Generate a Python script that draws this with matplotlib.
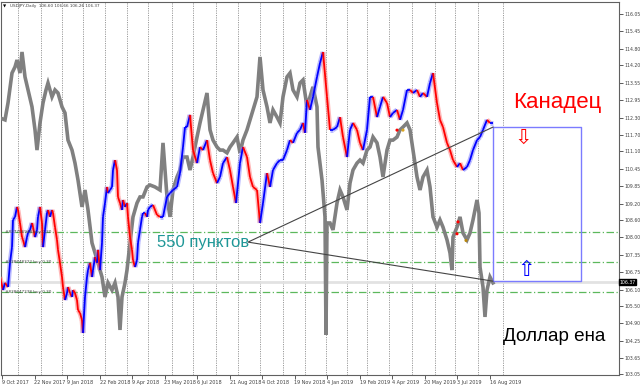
import numpy as np
import matplotlib
matplotlib.use("Agg")
import matplotlib.pyplot as plt
from matplotlib.collections import LineCollection

# USDJPY daily (grey bars), x = bar position on the chart
jpy_x = [0, 5, 8, 12, 15, 17, 20, 22, 25, 28, 32, 35, 37, 40, 43, 46, 48, 52, 55, 58,
         62, 65, 68, 72, 75, 78, 82, 85, 88, 92, 95, 98, 102, 105, 108, 112, 115, 118, 120, 122,
         125, 127, 130, 133, 137, 140, 143, 147, 150, 155, 160, 163, 167, 170, 173, 177, 180, 183, 187, 190,
         193, 197, 200, 203, 207, 210, 213, 217, 220, 223, 227, 230, 233, 237, 240, 243, 247, 250, 253, 257,
         260, 263, 267, 270, 273, 277, 280, 283, 287, 290, 293, 297, 300, 303, 307, 310, 313, 317, 318, 320,
         322, 325, 326, 327, 330, 333, 337, 340, 343, 347, 350, 353, 357, 360, 363, 367, 370, 373, 377, 380,
         383, 387, 390, 393, 397, 400, 403, 407, 410, 413, 417, 420, 423, 427, 430, 433, 437, 440, 443, 447,
         450, 452, 453, 457, 460, 463, 467, 470, 473, 477, 479, 480, 483, 485, 487, 490, 493]
jpy_close = [112.30, 112.23, 112.84, 113.92, 114.14, 114.39, 113.92, 114.68, 113.78, 113.31,
             112.70, 111.87, 111.14, 112.12, 112.84, 113.31, 113.56, 113.06, 113.31, 113.20,
             112.70, 112.48, 111.50, 111.14, 110.67, 110.06, 109.09, 109.70, 108.98, 107.79,
             107.43, 107.07, 106.56, 105.84, 106.35, 106.09, 106.35, 105.84, 104.65, 105.84,
             106.35, 106.81, 107.79, 108.73, 109.23, 109.45, 109.45, 109.81, 109.88, 109.81,
             109.70, 111.40, 109.45, 108.73, 109.70, 110.17, 110.42, 110.89, 110.89, 110.42,
             110.89, 111.61, 112.12, 112.59, 113.20, 111.87, 111.50, 111.25, 111.14, 111.14,
             111.04, 111.25, 111.40, 111.61, 111.04, 111.50, 111.87, 112.23, 112.59, 113.06,
             114.50, 113.31, 112.70, 112.12, 112.59, 112.33, 112.12, 113.06, 113.78, 113.92,
             113.31, 113.06, 113.56, 113.67, 112.70, 113.06, 113.42, 112.70, 111.25, 110.67,
             110.06, 108.73, 104.47, 108.51, 108.51, 108.26, 109.23, 109.70, 109.45, 108.98,
             109.95, 110.42, 110.67, 110.78, 110.67, 111.14, 111.25, 111.61, 111.40, 110.89,
             110.17, 111.14, 111.50, 111.50, 111.61, 111.87, 111.97, 112.12, 111.87, 111.14,
             110.17, 109.70, 110.17, 110.42, 109.81, 108.73, 108.36, 108.62, 108.36, 107.90,
             107.43, 106.81, 108.00, 108.36, 108.73, 108.15, 107.90, 108.15, 108.62, 109.34,
             108.87, 106.92, 106.20, 105.12, 106.09, 106.56, 106.35]

# USDCAD overlay ("Канадец"), drawn in the chart's price scale
cad_x = [0, 3, 5, 8, 10, 12, 13, 15, 17, 18, 20, 22, 23, 25, 27, 28, 30, 32, 33, 35,
         37, 38, 40, 42, 43, 45, 47, 48, 50, 52, 53, 55, 57, 58, 60, 62, 63, 65, 67, 68,
         70, 72, 73, 75, 77, 78, 80, 82, 83, 85, 87, 88, 90, 92, 93, 95, 97, 98, 100, 102,
         103, 105, 107, 108, 110, 112, 113, 115, 117, 118, 120, 122, 123, 125, 127, 128, 130, 132, 133, 135,
         137, 138, 140, 142, 143, 145, 147, 148, 150, 153, 157, 160, 163, 167, 170, 173, 177, 180, 183, 185,
         187, 190, 193, 197, 200, 203, 207, 210, 213, 217, 220, 223, 227, 230, 233, 236, 240, 243, 247, 250,
         253, 257, 260, 263, 267, 270, 273, 277, 280, 283, 287, 290, 293, 297, 300, 303, 305, 307, 310, 313,
         317, 320, 323, 327, 330, 333, 337, 340, 343, 347, 350, 353, 357, 360, 363, 367, 370, 373, 377, 380,
         383, 387, 390, 393, 397, 400, 403, 407, 410, 413, 417, 420, 423, 427, 430, 433, 437, 440, 443, 447,
         450, 453, 457, 460, 463, 467, 470, 473, 477, 480, 483, 487, 490, 493]
cad_close = [106.56, 106.09, 106.35, 106.20, 107.07, 107.64, 108.62, 108.73, 109.09, 108.98,
             108.51, 108.00, 107.90, 107.64, 108.00, 108.15, 108.26, 108.51, 108.36, 108.00,
             108.26, 108.73, 109.09, 108.51, 107.64, 108.26, 108.87, 108.98, 108.73, 108.98,
             108.87, 108.36, 107.90, 107.54, 107.07, 106.56, 106.20, 105.73, 105.98, 106.20,
             105.98, 105.84, 106.09, 105.98, 105.73, 105.37, 105.26, 105.01, 104.54, 105.84,
             106.56, 106.81, 107.07, 106.56, 106.81, 107.28, 107.07, 107.54, 106.81, 107.79,
             108.73, 109.23, 109.81, 109.59, 109.70, 109.81, 110.42, 110.78, 110.42, 109.45,
             109.23, 108.98, 109.34, 109.09, 109.23, 108.73, 108.00, 107.54, 107.17, 106.92,
             107.17, 107.79, 108.26, 108.73, 108.87, 108.87, 108.73, 108.98, 109.09, 109.16,
             108.80, 108.73, 108.73, 109.45, 109.59, 109.70, 109.81, 110.31, 111.25, 111.97,
             111.97, 112.41, 111.14, 110.67, 111.25, 111.14, 111.50, 110.78, 110.31, 109.95,
             110.17, 110.67, 110.89, 110.42, 109.81, 109.23, 110.67, 111.25, 110.89, 110.17,
             109.81, 109.70, 108.51, 109.23, 110.31, 109.81, 110.42, 110.67, 110.78, 110.78,
             111.14, 111.50, 111.40, 111.76, 111.87, 112.12, 111.76, 112.95, 112.59, 113.06,
             113.78, 114.28, 114.68, 113.06, 111.87, 111.87, 111.97, 112.33, 111.61, 110.89,
             111.87, 112.12, 111.87, 111.40, 111.14, 111.87, 113.06, 113.06, 112.33, 112.70,
             113.06, 112.84, 112.33, 112.48, 112.59, 112.23, 112.59, 113.31, 113.31, 113.20,
             113.31, 113.06, 113.20, 113.06, 113.56, 113.92, 112.84, 112.23, 111.97, 111.40,
             111.14, 110.78, 110.53, 110.67, 110.42, 110.53, 110.78, 111.14, 111.50, 111.61,
             111.87, 112.23, 112.12, 112.12]

# axis labels
price_ticks = [116.05, 115.45, 114.80, 114.20, 113.55, 112.95, 112.30, 111.70, 111.10, 110.45, 109.85,
               109.20, 108.60, 108.00, 107.35, 106.75, 106.10, 105.50, 104.90, 104.25, 103.65, 103.05]
date_labels = ["9 Oct 2017", "22 Nov 2017", "9 Jan 2018", "22 Feb 2018", "9 Apr 2018", "23 May 2018",
               "6 Jul 2018", "21 Aug 2018", "4 Oct 2018", "19 Nov 2018", "4 Jan 2019", "19 Feb 2019",
               "4 Apr 2019", "20 May 2019", "3 Jul 2019", "16 Aug 2019"]
date_pos = [2, 34.5, 67, 99.5, 132, 164.5, 197, 229.5, 262, 294.5, 327, 359.5, 392, 424.5, 457, 489.5]
month_starts = [18, 41, 62, 83, 105, 127, 148, 172, 193, 216, 238, 260, 283, 305, 326,
                347, 367, 389, 412, 435, 455, 478, 503]

# orders and annotations
order_prices = [108.18, 107.10, 106.01]
order_labels = ["#837756948 buy 0.30", "#838648322 buy 0.30", "#838647238 buy 0.30"]
last_price = 106.37
box_top, box_bottom = 111.97, 106.41
box_x0, box_x1 = 493, 581
apex_x, apex_y = 248, 107.82
marks_x = [458, 457, 466, 397, 403]
marks_y = [108.55, 108.12, 107.88, 111.86, 111.86]
marks_c = ["#ff0000", "#ff0000", "#b8860b", "#ff0000", "#daa520"]

fig = plt.figure(figsize=(6.4, 3.87), dpi=100)
ax = fig.add_axes([1 / 640, 12 / 387, 618 / 640, 373 / 387])
ax.set_xlim(1, 619)
ax.set_ylim(103.025, 116.483)

for xg in month_starts:
    ax.axvline(xg, color="#9a9a9a", lw=0.7, ls=(0, (1.2, 1.2)), zorder=1)

for p in order_prices:
    ax.axhline(p, color="#5cb85c", lw=0.9, ls=(0, (6, 2, 1, 2)), zorder=2)
for p, lab in zip(order_prices, order_labels):
    ax.text(5, p, lab, fontsize=3, color="#404040", va="center", ha="left", zorder=6)

ax.axhline(last_price, color="#e2e2e2", lw=2, zorder=1.5)

ax.plot(jpy_x, jpy_close, color="#808080", lw=2.6, zorder=3, solid_joinstyle="miter")

pts = np.column_stack([cad_x, cad_close])
segs = np.stack([pts[:-1], pts[1:]], axis=1)
up = np.diff(cad_close) >= 0
cols = np.where(up, "#0000ff", "#ff0000")
halo = np.where(up, "#8080ff", "#ff8080")
ax.add_collection(LineCollection(segs, colors=halo, lw=3.5, alpha=0.55, zorder=4))
ax.add_collection(LineCollection(segs, colors=cols, lw=1.3, zorder=5))

ax.scatter(marks_x, marks_y, s=5, c=marks_c, zorder=6, linewidths=0)

# blue box from last prices
ax.plot([box_x0, box_x1, box_x1, box_x0, box_x0],
        [box_top, box_top, box_bottom, box_bottom, box_top], color="#7b7bff", lw=1, zorder=4)

# triangle
ax.plot([box_x0, apex_x, box_x0], [box_top, apex_y, box_bottom], color="#444444", lw=0.8, zorder=6)

ax.text(157, apex_y, "550 пунктов", fontsize=12, color="#1f9797", va="center", ha="left",
        family="Liberation Sans", zorder=7)
ax.text(513, 112.85, "Канадец", fontsize=16, color="#ff0000", va="center", ha="left",
        family="Liberation Sans", zorder=7)
ax.text(503, 104.43, "Доллар ена", fontsize=13.6, color="#000000", va="center", ha="left",
        family="Liberation Sans", zorder=7)
ax.text(523, 111.6, "\u21e9", fontsize=15, color="#ff0000", va="center", ha="center", zorder=7)
ax.text(526, 106.8, "\u21e7", fontsize=15, color="#0000ff", va="center", ha="center", zorder=7)

# axes in terminal style
for s in ax.spines.values():
    s.set_color("#606060")
    s.set_linewidth(0.8)
ax.yaxis.tick_right()
ax.set_yticks(price_ticks)
ax.set_yticklabels(["%.2f" % v for v in price_ticks])
ax.tick_params(axis="y", length=3, width=0.6, pad=1, labelsize=3.3, colors="#404040")
ax.set_xticks(date_pos)
ax.set_xticklabels(date_labels, ha="left")
ax.tick_params(axis="x", length=3, width=0.6, pad=0.5, labelsize=3.5, colors="#404040")

ax.text(619.5, last_price, "106.37", fontsize=3.3, color="white", va="center", ha="left",
        bbox=dict(boxstyle="square,pad=0.15", fc="black", ec="black"), clip_on=False, zorder=8)

fig.text(3 / 640, 1 - 6 / 387, "\u25bc", fontsize=3, color="black", va="center")
fig.text(10 / 640, 1 - 6 / 387, "USDJPY,Daily  106.60 106.66 106.26 106.37", fontsize=3,
         color="#404040", va="center")

fig.savefig("out.png", dpi=100)
